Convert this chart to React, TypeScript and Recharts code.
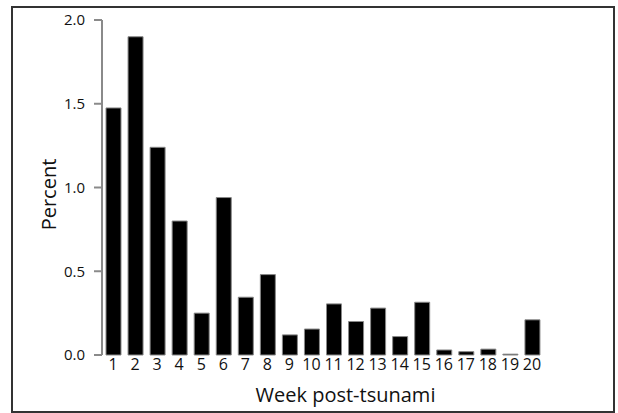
import { BarChart, Bar, XAxis, YAxis, Label } from 'recharts';

const weeks = ['1', '2', '3', '4', '5', '6', '7', '8', '9', '10', '11', '12', '13', '14', '15', '16', '17', '18', '19', '20'];
const percent = [1.475, 1.9, 1.24, 0.8, 0.25, 0.94, 0.345, 0.48, 0.12, 0.155, 0.305, 0.2, 0.28, 0.11, 0.315, 0.03, 0.02, 0.035, 0.005, 0.21];
const yTicks = [0, 0.5, 1.0, 1.5, 2.0];

const data = weeks.map((w, i) => ({ week: w, percent: percent[i] }));

const font = '"Open Sans", "Noto Sans", sans-serif';

// rotated y title, nudged a little below the plot centre like the original
const PercentLabel = (props: any) => {
    const vb = props.viewBox;
    const cx = vb.x + vb.width / 2 + 1;
    const cy = vb.y + vb.height / 2 + 7;
    return (
        <text
            x={cx}
            y={cy}
            transform={`rotate(-90, ${cx}, ${cy})`}
            textAnchor="middle"
            dominantBaseline="central"
            style={{ fill: '#111', fontSize: 20, fontFamily: font }}
        >
            Percent
        </text>
    );
};

export default function App() {
    return (
        <div style={{ position: 'absolute', left: 0, top: 0, width: 618, height: 413, background: '#fff' }}>
            <div style={{ position: 'absolute', left: 11, top: 6, width: 600, height: 403, border: '2px solid #333' }} />
            <div style={{ position: 'absolute', left: 0, top: 0 }}>
                <BarChart
                    width={618}
                    height={413}
                    data={data}
                    margin={{ top: 20, right: 75, left: -8, bottom: 13 }}
                    barSize={15}
                >
                    <XAxis
                        dataKey="week"
                        axisLine={false}
                        tickLine={false}
                        tickSize={0}
                        tickMargin={4}
                        height={45}
                        interval={0}
                        tick={{ fill: '#111', fontSize: 16, fontFamily: font }}
                    >
                        <Label value="Week post-tsunami" position="insideBottom" offset={-2} dx={23} style={{ fill: '#111', fontSize: 20, fontFamily: font }} />
                    </XAxis>
                    <YAxis
                        width={110}
                        domain={[0, 2]}
                        ticks={yTicks}
                        tickFormatter={(v: number) => v.toFixed(1)}
                        axisLine={{ stroke: '#8a8a8a', strokeWidth: 2 }}
                        tickLine={{ stroke: '#8a8a8a', strokeWidth: 2 }}
                        tickSize={8}
                        tickMargin={9}
                        tick={{ fill: '#111', fontSize: 15, fontFamily: font }}
                    >
                        <Label content={PercentLabel} />
                    </YAxis>
                    <Bar dataKey="percent" fill="#000" stroke="#888" strokeWidth={1} isAnimationActive={false} />
                </BarChart>
            </div>
        </div>
    );
}
